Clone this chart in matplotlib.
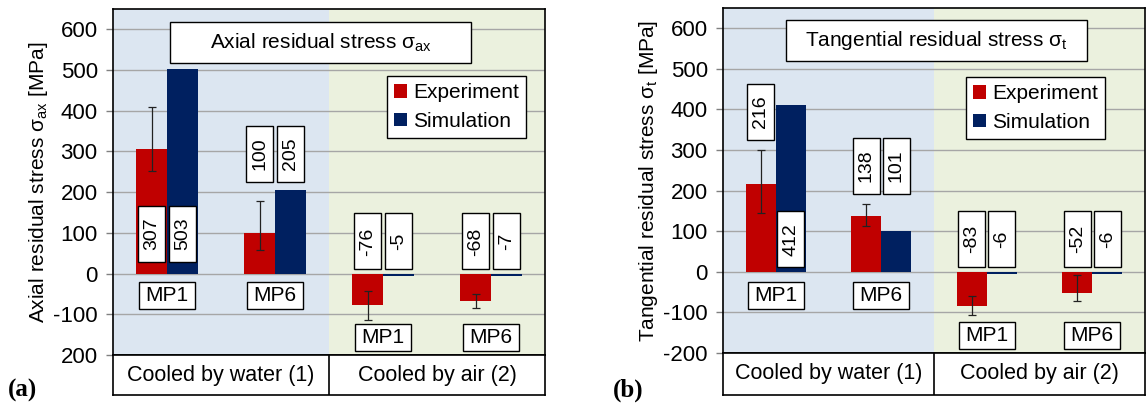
#!/usr/bin/env python3
'''Residual stress: experiment vs simulation, two panels'''
import matplotlib.pyplot as plt
import matplotlib.patches as mpatches
import numpy as np

plt.rcParams['font.family'] = ['Liberation Sans', 'DejaVu Sans']
plt.rcParams['mathtext.fontset'] = 'custom'
plt.rcParams['mathtext.rm'] = 'Liberation Sans'
plt.rcParams['axes.unicode_minus'] = False

POINTS = ['MP1', 'MP6', 'MP1', 'MP6']
COOLING = ['Cooled by water (1)', 'Cooled by air (2)']
SERIES = ['Experiment', 'Simulation']

AX_EXP = [307, 100, -76, -68]
AX_EXP_LO = [251, 57, -113, -85]
AX_EXP_HI = [409, 178, -44, -51]
AX_SIM = [503, 205, -5, -7]

TAN_EXP = [216, 138, -83, -52]
TAN_EXP_LO = [146, 114, -106, -72]
TAN_EXP_HI = [301, 166, -60, -9]
TAN_SIM = [412, 101, -6, -6]

YTICKS = [-200, -100, 0, 100, 200, 300, 400, 500, 600]
AX_YTICKLABELS = ['200', '-100', '0', '100', '200', '300', '400', '500', '600']
TAN_YTICKLABELS = ['-200', '-100', '0', '100', '200', '300', '400', '500', '600']

RED = '#c00000'
NAVY = '#002060'
BLUE_BG = '#dce6f1'
GREEN_BG = '#ebf1de'

W, H = 1146, 407
BAR_W = 0.285


def frac(x0, y0, x1, y1):
    return [x0 / W, 1 - y1 / H, (x1 - x0) / W, (y1 - y0) / H]


def boxed(ax, x, y, s, wpx, hpx, pxw, pxh, rot=0, fs=14):
    # fixed-size white label box, size given in pixels
    w = wpx * 4.0 / pxw
    h = hpx * 850.0 / pxh
    ax.add_patch(mpatches.Rectangle((x - w / 2, y - h / 2), w, h, facecolor='white',
                                    edgecolor='black', lw=1.0, zorder=5))
    ax.text(x, y, s, rotation=rot, ha='center', va='center', fontsize=fs,
            zorder=6, rotation_mode='anchor')


def panel(fig, rect, cat_rect, exp, lo, hi, sim, yticklabels, ylabel, title,
          title_box, val_y, cat_y, leg_anchor, tag, tag_x):
    pxw = rect[2] - rect[0]
    pxh = rect[3] - rect[1]
    ax = fig.add_axes(frac(*rect))
    x = np.arange(len(POINTS))
    ax.axvspan(-0.5, 1.5, color=BLUE_BG, zorder=0, lw=0)
    ax.axvspan(1.5, 3.5, color=GREEN_BG, zorder=0, lw=0)
    ax.set_axisbelow(True)
    ax.yaxis.grid(True, color='#a6a6a6', lw=1.0)

    exp = np.array(exp)
    err = [exp - np.array(lo), np.array(hi) - exp]
    ax.bar(x - BAR_W / 2, exp, BAR_W, color=RED, label=SERIES[0], zorder=2)
    ax.bar(x + BAR_W / 2, sim, BAR_W, color=NAVY, label=SERIES[1], zorder=2)
    ax.errorbar(x - BAR_W / 2, exp, yerr=err, fmt='none', ecolor='#222222',
                elinewidth=0.9, capsize=3, capthick=0.9, zorder=3)

    for i in range(len(POINTS)):
        boxed(ax, x[i] - BAR_W / 2, val_y[i][0], str(exp[i]), 27, 56, pxw, pxh, rot=90)
        boxed(ax, x[i] + BAR_W / 2, val_y[i][1], str(sim[i]), 27, 56, pxw, pxh, rot=90)
        boxed(ax, x[i], cat_y[i], POINTS[i], 56, 27, pxw, pxh, fs=15)

    ax.set_xlim(-0.5, 3.5)
    ax.set_ylim(-200, 650)
    ax.set_xticks([])
    ax.set_yticks(YTICKS)
    ax.set_yticklabels(yticklabels)
    ax.tick_params(axis='y', length=5, width=1, color='#808080', pad=6,
                   labelsize=16)
    for sp in ax.spines.values():
        sp.set_linewidth(1.2)
    ax.set_ylabel(ylabel, fontsize=15, labelpad=2)

    tx0, ty0, tx1, ty1 = title_box
    ax.add_patch(mpatches.Rectangle((tx0, ty1), tx1 - tx0, ty0 - ty1,
                                    transform=ax.transAxes, facecolor='white',
                                    edgecolor='black', lw=1.0, zorder=5))
    ax.text((tx0 + tx1) / 2, (ty0 + ty1) / 2, title, transform=ax.transAxes,
            ha='center', va='center', fontsize=15, zorder=6)

    leg = ax.legend(loc='upper left', bbox_to_anchor=leg_anchor, borderaxespad=0,
                    fontsize=15, fancybox=False, framealpha=1, edgecolor='black',
                    handlelength=0.6, handleheight=0.6, handletextpad=0.3,
                    labelspacing=0.45, borderpad=0.35)
    leg.get_frame().set_linewidth(1.0)
    leg.set_zorder(7)

    cax = fig.add_axes(frac(*cat_rect))
    cax.set_xlim(-0.5, 3.5)
    cax.set_ylim(0, 1)
    cax.set_xticks([])
    cax.set_yticks([])
    for sp in cax.spines.values():
        sp.set_linewidth(1.2)
    cax.axvline(1.5, color='black', lw=1.2)
    cax.text(0.5, 0.5, COOLING[0], ha='center', va='center', fontsize=15.5)
    cax.text(2.5, 0.5, COOLING[1], ha='center', va='center', fontsize=15.5)

    fig.text(tag_x / W, 1 - 390 / H, tag, ha='left', va='center', fontsize=18,
             family=['Liberation Serif', 'DejaVu Serif'], fontweight='bold')
    return ax


def run():
    fig = plt.figure(figsize=(W / 100, H / 100), dpi=100)

    panel(fig, (113, 9, 545, 355), (113, 355, 545, 395),
          AX_EXP, AX_EXP_LO, AX_EXP_HI, AX_SIM, AX_YTICKLABELS,
          r'Axial residual stress σ$_\mathregular{ax}$ [MPa]',
          r'Axial residual stress σ$_\mathregular{ax}$',
          (0.132, 0.962, 0.829, 0.844),
          [[98, 98], [294, 294], [79, 79], [79, 79]],
          [-55, -55, -156, -156],
          (0.634, 0.806), '(a)', 8)

    panel(fig, (723, 8, 1145, 353), (723, 353, 1145, 395),
          TAN_EXP, TAN_EXP_LO, TAN_EXP_HI, TAN_SIM, TAN_YTICKLABELS,
          r'Tangential residual stress σ$_\mathregular{t}$ [MPa]',
          r'Tangential residual stress σ$_\mathregular{t}$',
          (0.149, 0.965, 0.863, 0.846),
          [[394, 80], [261, 261], [80, 80], [80, 80]],
          [-59, -59, -156, -156],
          (0.576, 0.800), '(b)', 613)

    fig.savefig('out.png', dpi=100)


if __name__ == '__main__':
    run()
